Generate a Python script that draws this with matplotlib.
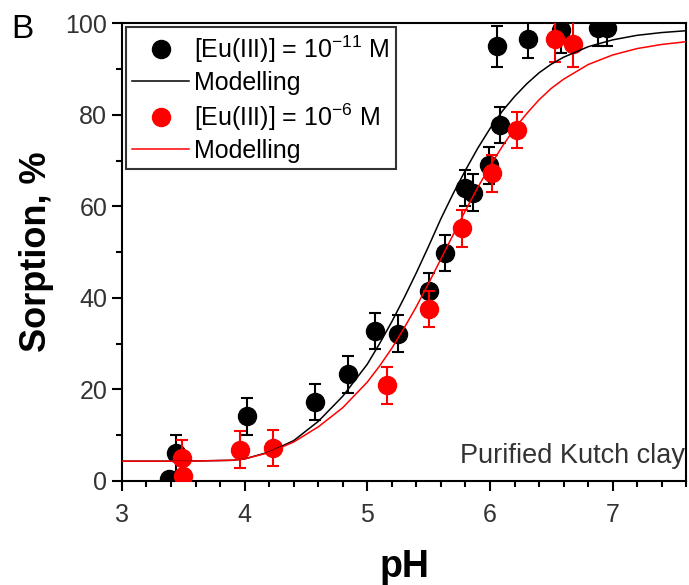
import matplotlib
matplotlib.use("Agg")
import matplotlib.pyplot as plt
from matplotlib.ticker import MultipleLocator

plt.rcParams['font.family'] = ['Liberation Sans', 'DejaVu Sans']
plt.rcParams['mathtext.default'] = 'regular'

# measured sorption, [Eu(III)] = 1e-11 M
ph_low = [3.38, 3.44, 4.02, 4.57, 4.84, 5.06, 5.25, 5.50, 5.63, 5.80, 5.86,
          5.99, 6.08, 6.06, 6.31, 6.58, 6.88, 6.95]
sorp_low = [0.5, 6.0, 14.1, 17.2, 23.3, 32.8, 32.2, 41.5, 49.8, 64.0, 63.0,
            69.0, 77.8, 95.0, 96.5, 98.5, 99.0, 99.0]
err_low = [1, 4, 4, 4, 4, 4, 4, 4, 4, 4, 4, 4, 4, 4.5, 4, 5, 4, 4]

# measured sorption, [Eu(III)] = 1e-6 M
ph_high = [3.49, 3.50, 3.96, 4.23, 5.16, 5.50, 5.77, 6.02, 6.22, 6.53, 6.68]
sorp_high = [5.0, 1.0, 6.8, 7.2, 20.9, 37.6, 55.2, 67.2, 76.7, 96.5, 95.4]
err_high = [4, 1, 4, 4, 4, 4, 4, 4, 4, 5, 5]

# model curves
ph_model = [3.0, 3.5, 3.9, 4.0, 4.2, 4.4, 4.6, 4.8, 5.0, 5.1, 5.2, 5.3, 5.4,
            5.5, 5.6, 5.7, 5.8, 5.9, 6.0, 6.1, 6.2, 6.3, 6.4, 6.5, 6.6, 6.8,
            7.0, 7.2, 7.4, 7.6]
model_low = [4.3, 4.3, 4.5, 4.8, 6.3, 8.8, 13.0, 18.5, 25.5, 30.0, 34.8, 40.0,
             45.5, 51.3, 57.3, 62.8, 67.9, 72.7, 77.0, 80.8, 84.0, 86.8, 89.2,
             91.1, 92.6, 94.9, 96.4, 97.4, 98.0, 98.4]
model_high = [4.3, 4.3, 4.5, 4.8, 6.2, 8.5, 11.8, 16.0, 21.6, 25.1, 29.0, 33.4,
              38.1, 43.2, 48.5, 53.8, 59.1, 64.1, 68.8, 73.1, 77.0, 80.3, 83.3,
              85.8, 87.8, 91.0, 93.1, 94.5, 95.4, 96.0]

fig = plt.figure(figsize=(6.89, 5.85), dpi=100)
ax = fig.add_axes([0.177, 0.178, 0.819, 0.782])

eb_low = ax.errorbar(ph_low, sorp_low, yerr=err_low, fmt='o', color='black',
                     ms=13, elinewidth=1.5, capsize=4, capthick=1.5, zorder=2)
ln_low, = ax.plot(ph_model, model_low, color='black', lw=1.1, zorder=4)
eb_high = ax.errorbar(ph_high, sorp_high, yerr=err_high, fmt='o', color='red',
                      ms=13, elinewidth=1.5, capsize=4, capthick=1.5, zorder=3)
ln_high, = ax.plot(ph_model, model_high, color='red', lw=1.1, zorder=4)

ax.set_xlim(3, 7.6)
ax.set_ylim(0, 100)
ax.xaxis.set_major_locator(MultipleLocator(1))
ax.xaxis.set_minor_locator(MultipleLocator(0.2))
ax.yaxis.set_major_locator(MultipleLocator(20))
ax.yaxis.set_minor_locator(MultipleLocator(10))
ax.tick_params(which='both', direction='out', width=1.5, colors='black',
               labelcolor='#333333', labelsize=18, top=False, right=False)
ax.tick_params(which='major', length=7)
ax.tick_params(which='minor', length=4)
ax.tick_params(axis='x', pad=9)
for s in ax.spines.values():
    s.set_linewidth(1.5)

ax.set_xlabel('pH', fontsize=27, fontweight='bold', labelpad=16)
ax.set_ylabel('Sorption, %', fontsize=26, fontweight='bold', labelpad=8)

# legend shows markers only for the measured series
leg = ax.legend([eb_low.lines[0], ln_low, eb_high.lines[0], ln_high],
                ['[Eu(III)] = 10$^{-11}$ M', 'Modelling',
                 '[Eu(III)] = 10$^{-6}$ M', 'Modelling'],
                loc='upper left', fontsize=18, frameon=True,
                fancybox=False, edgecolor='black', borderpad=0.25,
                labelspacing=0.25, handlelength=2.3, handletextpad=0.2,
                borderaxespad=0.15)
leg.get_frame().set_linewidth(1.5)

ax.text(0.997, 0.025, 'Purified Kutch clay', transform=ax.transAxes,
        ha='right', va='bottom', fontsize=19.5, color='#333333')
fig.text(0.017, 0.935, 'B', fontsize=24, color='black')

fig.savefig('out.png', dpi=100)
